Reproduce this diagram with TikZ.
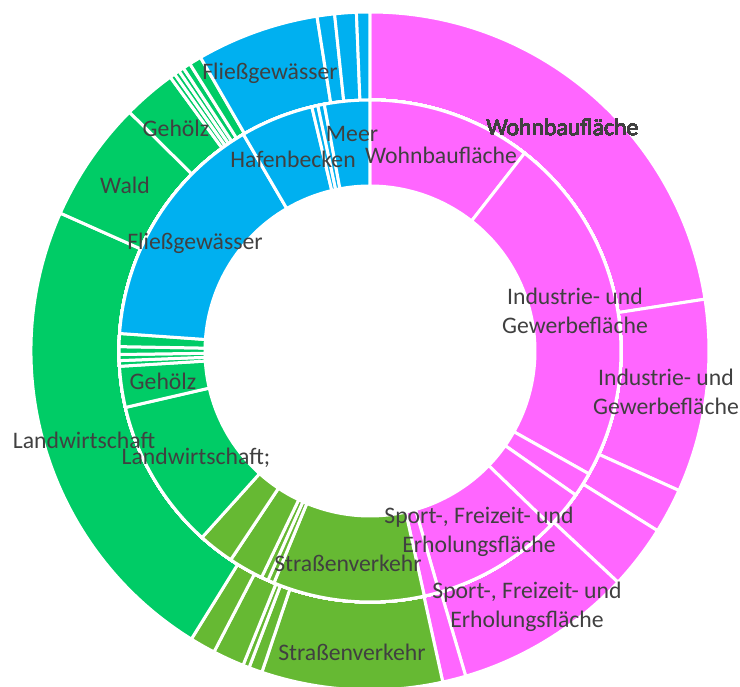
\documentclass[tikz,border=0pt]{standalone}
\usepackage{fontspec}
\setmainfont{Carlito}
\definecolor{wohn}{HTML}{FF66FF}
\definecolor{wasser}{HTML}{00B0F0}
\definecolor{agrar}{HTML}{00CC66}
\definecolor{verkehr}{HTML}{66B933}
\definecolor{labelgray}{HTML}{404040}
% annular sector: inner radius, outer radius, start, end (clockwise from top), colour
\newcommand{\ringseg}[5]{%
  \fill[#5, draw=white, line width=3pt, line join=miter]
    ({90-#3}:#2) arc[start angle={90-#3}, end angle={90-#4}, radius=#2]
    -- ({90-#4}:#1) arc[start angle={90-#4}, end angle={90-#3}, radius=#1] -- cycle;}
\tikzset{
  lbl/.style={text=labelgray, font=\fontsize{23.7}{28.5}\selectfont, align=center, inner sep=0pt}
}
\begin{document}
\begin{tikzpicture}[x=1pt, y=1pt]
\useasboundingbox (-370,-336) rectangle (370,351);
% outer ring
\foreach \a/\b/\c in {0/81.2/wohn, 81.2/114.3/wohn, 114.3/122/wohn, 122/133/wohn, 133/163.6/wohn, 163.6/167.6/wohn,
  167.6/198.6/verkehr, 198.6/200.9/verkehr, 200.9/202/verkehr, 202/207.4/verkehr, 207.4/211.8/verkehr,
  211.8/294/agrar, 294/314.8/agrar, 314.8/323.9/agrar, 323.9/324.8/agrar, 324.8/325.7/agrar, 325.7/326.6/agrar, 326.6/327.9/agrar, 327.9/330/agrar,
  330/351/wasser, 351/354/wasser, 354/357.7/wasser, 357.7/360/wasser}
  \ringseg{251}{339}{\a}{\b}{\c}
% inner ring
\foreach \a/\b/\c in {0/38/wohn, 38/119.3/wohn, 119.3/125/wohn, 125/134/wohn, 134/164/wohn, 164/167.5/wohn,
  167.5/202.5/verkehr, 202.5/204/verkehr, 204/205.6/verkehr, 205.6/213.7/verkehr, 213.7/222/verkehr,
  222/257/agrar, 257/266.5/agrar, 266.5/267.8/agrar, 267.8/269.2/agrar, 269.2/271/agrar, 271/274/agrar,
  274/329.7/wasser, 329.7/346.6/wasser, 346.6/348/wasser, 348/349.5/wasser, 349.5/360/wasser}
  \ringseg{165}{251}{\a}{\b}{\c}
% labels outer ring
\node[lbl] (owohn) at (192.6,223.6) {Wohnbaufläche};
\node[lbl] (oind) at (296,-41) {Industrie- und\\Gewerbefläche};
\node[lbl] (osport) at (157,-256) {Sport-, Freizeit- und\\Erholungsfläche};
\node[lbl] (ostr) at (-18,-301) {Straßenverkehr};
\node[lbl] (olandw) at (-286,-89) {Landwirtschaft};
\node[lbl] (owald) at (-245,166) {Wald};
\node[lbl] (ogeh) at (-194,223) {Gehölz};
\node[lbl] (ofliess) at (-100,278) {Fließgewässer};
% labels inner ring
\node[lbl] (iwohn) at (71,196) {Wohnbaufläche};
\node[lbl] (iind) at (205,40) {Industrie- und\\Gewerbefläche};
\node[lbl] (isport) at (109,-181) {Sport-, Freizeit- und\\Erholungsfläche};
\node[lbl] (istr) at (-22,-212) {Straßenverkehr};
\node[lbl] (ilandw) at (-174,-107) {Landwirtschaft;};
\node[lbl] (igeh) at (-207,-30) {Gehölz};
\node[lbl] (ifliess) at (-175,108) {Fließgewässer};
\node[lbl] (ihafen) at (-77,192) {Hafenbecken};
\node[lbl] (imeer) at (-18,217) {Meer};
\end{tikzpicture}
\end{document}
